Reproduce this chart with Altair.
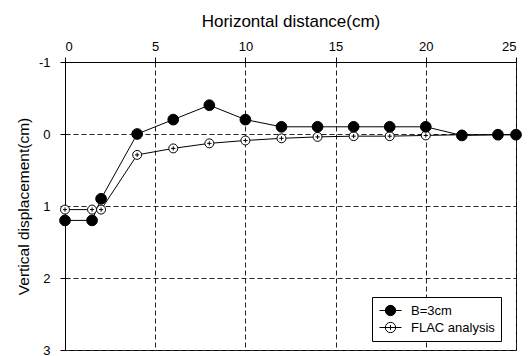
import altair as alt
import pandas as pd

# Horizontal positions of the measuring points (cm)
x_pos = [0, 1.5, 2, 4, 6, 8, 10, 12, 14, 16, 18, 20, 22, 24, 25]
# Measured vertical displacement, B=3cm (cm)
y_b3 = [1.2, 1.2, 0.9, 0.0, -0.2, -0.4, -0.2, -0.1, -0.1, -0.1, -0.1, -0.1, 0.02, 0.01, 0.01]
# FLAC analysis result (cm)
y_flac = [1.05, 1.05, 1.05, 0.29, 0.2, 0.13, 0.09, 0.06, 0.04, 0.03, 0.03, 0.02, 0.01, 0.01, 0.01]

series_names = ["B=3cm", "FLAC analysis"]
x_ticks = [0, 5, 10, 15, 20, 25]
y_ticks = [-1, 0, 1, 2, 3]

df = pd.concat([
    pd.DataFrame({"series": series_names[0], "x": x_pos, "y": y_b3}),
    pd.DataFrame({"series": series_names[1], "x": x_pos, "y": y_flac}),
])

FONT = "Liberation Sans"

x_enc = alt.X(
    "x:Q",
    scale=alt.Scale(domain=[0, 25], nice=False, zero=False),
    axis=alt.Axis(
        orient="top", values=x_ticks, title="Horizontal distance(cm)",
        titleFontSize=17, titlePadding=10, labelFontSize=13, labelPadding=4,
        tickSize=5, grid=True, labelExpr="'' + datum.value",
    ),
)
y_enc = alt.Y(
    "y:Q",
    scale=alt.Scale(domain=[-1, 3], nice=False, zero=False, reverse=True),
    axis=alt.Axis(
        values=y_ticks, title="Vertical displacement(cm)",
        titleFontSize=15.5, titlePadding=7, labelFontSize=13, labelPadding=10,
        tickSize=5, grid=True, labelExpr="'' + datum.value",
    ),
)

# legend glyph: short line with a circle (and a small cross) in the middle
glyph = "M-1.57,0H1.57M0,-0.35V0.35M-0.74,0A0.74,0.74 0 1,1 0.74,0A0.74,0.74 0 1,1 -0.74,0Z"

fill_enc = alt.Fill(
    "series:N",
    scale=alt.Scale(domain=series_names, range=["black", "white"]),
    legend=alt.Legend(
        title=None, orient="none", legendX=307, legendY=235,
        symbolType=glyph, symbolSize=196, symbolStrokeColor="black",
        symbolStrokeWidth=1, symbolOffset=5, labelOffset=13,
        labelFontSize=13, labelFont=FONT, labelColor="black",
        padding=6, rowPadding=2, strokeColor="black", fillColor="white",
        cornerRadius=0, symbolOpacity=1,
    ),
)

base = alt.Chart(df)

lines = base.mark_line(color="black", strokeWidth=1).encode(
    x=x_enc, y=y_enc, detail="series:N"
)

flac = base.transform_filter(alt.datum.series == series_names[1])
b3 = base.transform_filter(alt.datum.series == series_names[0])

flac_pts = flac.mark_point(
    shape="circle", filled=True, size=80, stroke="black", strokeWidth=1, opacity=1
).encode(x=x_enc, y=y_enc, fill=fill_enc)

flac_cross = flac.mark_point(
    shape="M-1,0H1M0,-1V1", filled=False, size=18, stroke="black", strokeWidth=1, opacity=1
).encode(x=x_enc, y=y_enc)

b3_pts = b3.mark_point(
    shape="circle", filled=True, size=115, stroke="black", strokeWidth=1, opacity=1
).encode(x=x_enc, y=y_enc, fill=fill_enc)

chart = (
    alt.layer(lines, flac_pts, flac_cross, b3_pts)
    .properties(
        width=451, height=288,
        autosize=alt.AutoSizeParams(type="none"),
        padding={"left": 65, "top": 62, "right": 12, "bottom": 6},
        background="white",
    )
    .configure_view(stroke="black", strokeWidth=1)
    .configure_axis(
        domainColor="black", domainWidth=1, tickColor="black", tickWidth=1,
        labelColor="black", titleColor="black", labelFont=FONT, titleFont=FONT,
        titleFontWeight="normal", gridColor="#222222", gridDash=[5, 3],
        gridWidth=1, gridOpacity=1,
    )
)

chart.save("out.html", embed_options={"renderer": "svg", "actions": False})
